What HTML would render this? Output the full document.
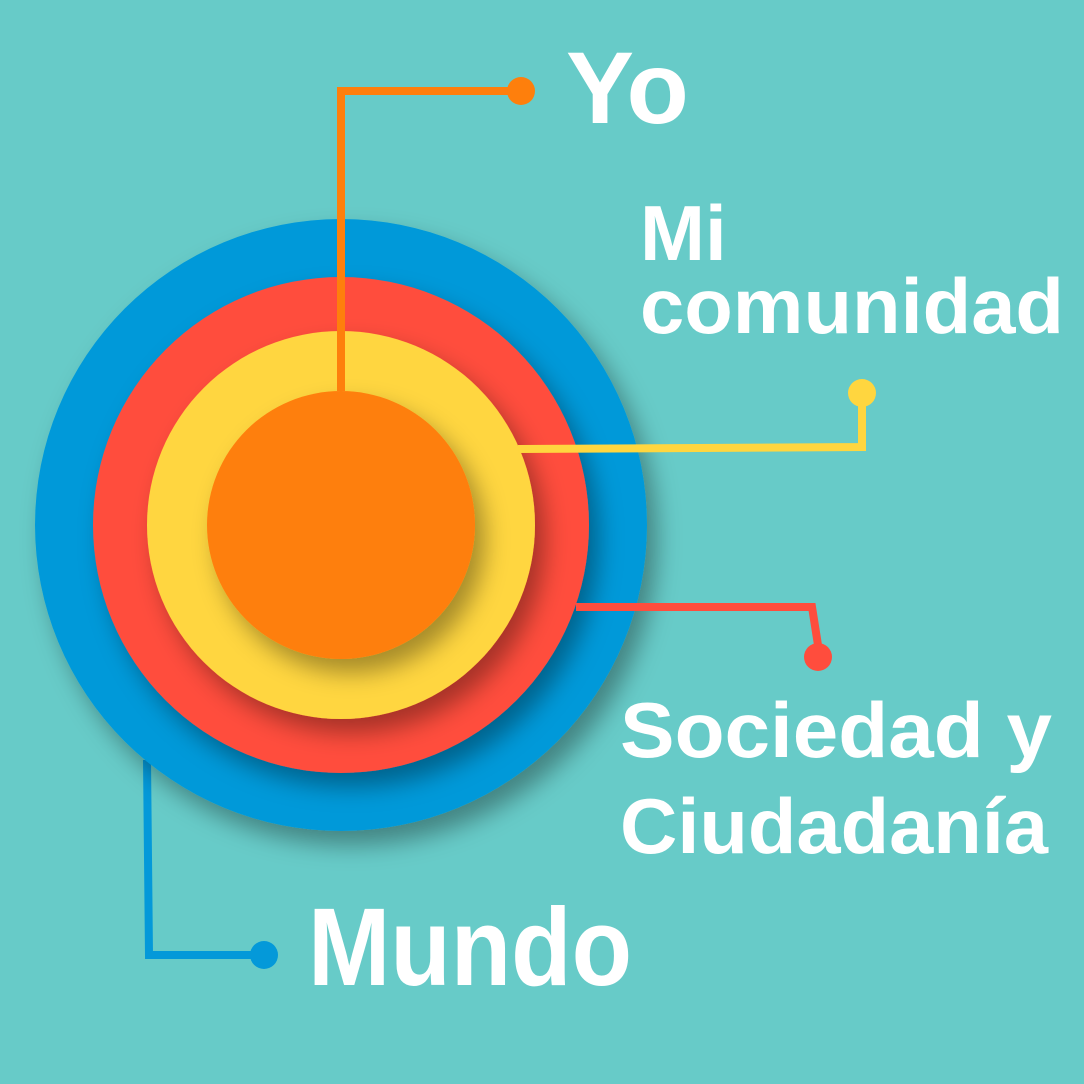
<!DOCTYPE html>
<html><head><meta charset="utf-8"><style>
html,body{margin:0;padding:0;background:#67cbc8;}
svg{display:block;}
text{font-family:"Liberation Sans",sans-serif;font-weight:bold;fill:#fff;}
</style></head><body>
<svg width="1084" height="1084" viewBox="0 0 1084 1084">
<defs>
<filter id="sh" x="-30%" y="-30%" width="160%" height="160%">
<feDropShadow dx="10" dy="14" stdDeviation="12" flood-color="#000" flood-opacity="0.35"/>
</filter>
</defs>
<rect width="1084" height="1084" fill="#67cbc8"/>
<!-- blue connector -->
<polyline points="147,760 149,955 264,955" fill="none" stroke="#0499d9" stroke-width="8"/>
<circle cx="264" cy="955" r="14" fill="#0499d9"/>
<circle cx="341" cy="525" r="306" fill="#0499d9" filter="url(#sh)"/>
<circle cx="341" cy="525" r="248" fill="#ff4d3d" filter="url(#sh)"/>
<circle cx="341" cy="525" r="194" fill="#ffd63f" filter="url(#sh)"/>
<circle cx="341" cy="525" r="134" fill="#fe7f0c" filter="url(#sh)"/>
<!-- orange -->
<polyline points="341,391 341,91 521,91" fill="none" stroke="#fe7f0c" stroke-width="8"/>
<circle cx="521" cy="91" r="14" fill="#fe7f0c"/>
<!-- yellow -->
<polyline points="518,449 862,447 862,393" fill="none" stroke="#ffd63f" stroke-width="8"/>
<circle cx="862" cy="393" r="14" fill="#ffd63f"/>
<!-- red -->
<polyline points="576,607 812,607 818,645" fill="none" stroke="#ff4d3d" stroke-width="8"/>
<circle cx="818" cy="657" r="14" fill="#ff4d3d"/>
<text x="566" y="123" font-size="102">Yo</text>
<text x="640" y="260" font-size="78">Mi</text>
<text x="640" y="333" font-size="78" textLength="424" lengthAdjust="spacingAndGlyphs">comunidad</text>
<text x="620" y="757" font-size="78" textLength="432" lengthAdjust="spacingAndGlyphs">Sociedad y</text>
<text x="620" y="853" font-size="78" textLength="428" lengthAdjust="spacingAndGlyphs">Ciudadanía</text>
<text x="308" y="985" font-size="110" textLength="324" lengthAdjust="spacingAndGlyphs">Mundo</text>
</svg>
</body></html>
